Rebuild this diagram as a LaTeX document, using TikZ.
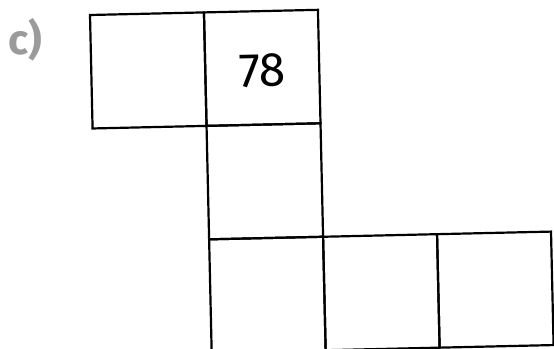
\documentclass[tikz,border=0pt]{standalone}
\usepackage{fontspec}
\setmainfont{Fira Sans}
\definecolor{labgray}{RGB}{155,155,155}
\begin{document}
\begin{tikzpicture}[x=1pt,y=-1pt,
  cell/.style={draw=black,line width=2.2pt,minimum width=114pt,minimum height=113.5pt,inner sep=0pt,transform shape},
  numtext/.style={font=\fontsize{48}{48}\selectfont,inner sep=0pt,transform shape},
  parttext/.style={font=\fontsize{42}{42}\selectfont\bfseries,text=labgray,inner sep=0pt}]
\useasboundingbox (0,0) rectangle (554,348);
\clip (0,0) rectangle (554,348);
\fill[white] (0,0) rectangle (554,348);
\node[parttext,anchor=base west] (lab) at (8,54) {c)};
\begin{scope}[shift={(90,15)},rotate=1.3]
  \node[cell] (a) at (57,56.75) {};
  \node[cell] (b) at (171,56.75) {};
  \node[cell] (c) at (171,170.25) {};
  \node[cell] (d) at (171,283.75) {};
  \node[cell] (e) at (285,283.75) {};
  \node[cell] (f) at (399,283.75) {};
  \node[numtext] (n) at ([yshift=-3pt]b.center) {78};
\end{scope}
\end{tikzpicture}
\end{document}
